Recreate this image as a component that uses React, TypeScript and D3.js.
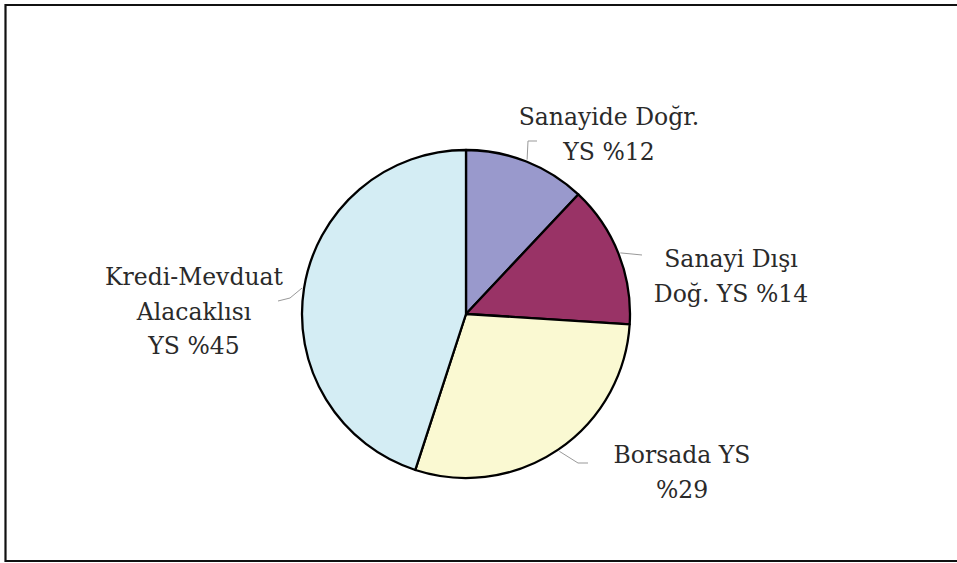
import React from "react";
import * as d3 from "d3";

const categories = ["Sanayide Doğr. YS", "Sanayi Dışı Doğ. YS", "Borsada YS", "Kredi-Mevduat Alacaklısı YS"];
const values = [12, 14, 29, 45];
const labelLines = [
  ["Sanayide Doğr.", "YS %12"],
  ["Sanayi Dışı", "Doğ. YS %14"],
  ["Borsada YS", "%29"],
  ["Kredi-Mevduat", "Alacaklısı", "YS %45"],
];
const colors = ["#9999CC", "#993366", "#FAF9D2", "#D4EDF4"];

// layout (positions of labels and leader line bends)
const labelLayout = [
  { x: 609, y: 125, elbow: [528, 141], end: [537, 141] },
  { x: 731, y: 267, elbow: [632, 254], end: [642, 255] },
  { x: 682, y: 463, elbow: [578, 463], end: [588, 463] },
  { x: 194, y: 285, elbow: [290, 298], end: [278, 301] },
];

const W = 957;
const H = 563;
const cx = 466;
const cy = 314;
const R = 164;

export default function App() {
  const pie = d3.pie<number>().sort(null).value((d) => d);
  const arcs = pie(values);
  const arcGen = d3.arc<d3.PieArcDatum<number>>().innerRadius(0).outerRadius(R);
  const lineH = 34.5;
  return (
    <svg width={W} height={H} style={{ position: "absolute", left: 0, top: 0, background: "#fff" }}>
      <rect x={0} y={0} width={W} height={H} fill="#fff" />
      <path d={`M${W + 2},5 L5.5,5 L5.5,561 L${W + 2},561`} fill="none" stroke="#111" strokeWidth={2.2} />
      <g transform={`translate(${cx},${cy})`}>
        {arcs.map((a, i) => (
          <path key={i} d={arcGen(a) || ""} fill={colors[i]} stroke="#000" strokeWidth={2.3} strokeLinejoin="round" />
        ))}
      </g>
      {arcs.map((a, i) => {
        const mid = (a.startAngle + a.endAngle) / 2;
        const sx = cx + (R + 2) * Math.sin(mid);
        const sy = cy - (R + 2) * Math.cos(mid);
        const L = labelLayout[i];
        return (
          <polyline
            key={"l" + i}
            points={`${sx},${sy} ${L.elbow[0]},${L.elbow[1]} ${L.end[0]},${L.end[1]}`}
            fill="none"
            stroke="#999"
            strokeWidth={1}
          />
        );
      })}
      {labelLines.map((lines, i) => (
        <text
          key={"t" + i}
          textAnchor="middle"
          fontFamily="'DejaVu Serif', serif"
          fontSize={23.5}
          fill="#2a2a2a"
        >
          {lines.map((ln, j) => (
            <tspan key={j} x={labelLayout[i].x} y={labelLayout[i].y + j * lineH}>
              {ln}
            </tspan>
          ))}
        </text>
      ))}
      <title>{categories.join(", ")}</title>
    </svg>
  );
}
